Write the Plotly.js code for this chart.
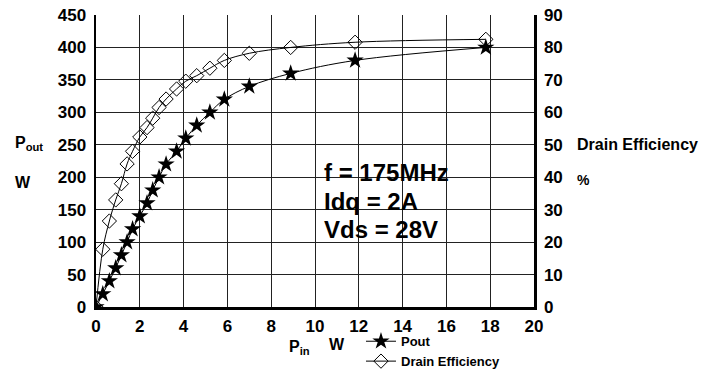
<!DOCTYPE html>
<html>
<head>
<meta charset="utf-8">
<script src="https://cdn.plot.ly/plotly-3.0.1.min.js"></script>
<style>
html,body{margin:0;padding:0;background:#fff;}
#chart{width:712px;height:372px;}
</style>
</head>
<body>
<div id="chart"></div>
<script>
// Input power (W)
const pin = [0, 0.31, 0.61, 0.9, 1.16, 1.42, 1.67, 2.0, 2.33, 2.59, 2.88, 3.2, 3.68, 4.1, 4.6, 5.2, 5.86, 7.0, 8.89, 11.83, 17.8];
// Output power (W)
const pout = [0, 20, 40, 60, 80, 100, 120, 140, 160, 180, 200, 220, 240, 260, 280, 300, 320, 340, 360, 380, 400];
// Drain efficiency (%)
const eff = [0, 17.8, 26.5, 33, 38, 44.1, 48, 52.4, 55.3, 58.2, 61.5, 64.1, 67.2, 69.6, 71.3, 73.6, 76, 78.2, 80, 81.6, 82.5];

const FONT = 'Liberation Sans, Arial, Helvetica, sans-serif';

const traces = [
  {
    x: pin, y: pout, name: '<b>Pout</b>', type: 'scatter', mode: 'lines+markers',
    line: {color: 'black', width: 1, shape: 'spline'},
    marker: {symbol: 'star', size: 13, color: 'black', line: {width: 0}}
  },
  {
    x: pin, y: eff, name: '<b>Drain Efficiency</b>', type: 'scatter', mode: 'lines+markers', yaxis: 'y2',
    line: {color: 'black', width: 1, shape: 'spline'},
    marker: {symbol: 'diamond-open', size: 11, color: 'black', line: {width: 1, color: 'black'}}
  }
];

const tickfont = {family: FONT, size: 17, color: 'black', weight: 'bold'};
const gridcolor = '#222';

function ann(x, y, text, size) {
  return {xref: 'paper', yref: 'paper', x: x, y: y, xanchor: 'left', yanchor: 'middle', showarrow: false,
          text: '<b>' + text + '</b>', font: {family: FONT, size: size, color: 'black', weight: 'bold'}};
}

const layout = {
  width: 712, height: 372,
  margin: {l: 96, r: 178, t: 15, b: 65, pad: 0, autoexpand: false},
  paper_bgcolor: 'white', plot_bgcolor: 'white',
  font: {family: FONT, color: 'black', weight: 'bold'},
  showlegend: true,
  legend: {
    x: 0.605, y: -0.066, xanchor: 'left', yanchor: 'top',
    bgcolor: 'rgba(0,0,0,0)', borderwidth: 0,
    font: {family: FONT, size: 13, color: 'black', weight: 'bold'},
    tracegroupgap: 0, itemwidth: 30
  },
  xaxis: {
    range: [0, 20], dtick: 2, tick0: 0, ticks: '',
    showline: true, linecolor: 'black', linewidth: 2.5,
    showgrid: true, gridcolor: gridcolor, gridwidth: 1,
    zeroline: false, tickfont: tickfont, ticklabelstandoff: 2, fixedrange: true
  },
  yaxis: {
    range: [0, 450], dtick: 50, tick0: 0, ticks: '',
    showline: true, linecolor: 'black', linewidth: 2.5,
    showgrid: true, gridcolor: gridcolor, gridwidth: 1,
    zeroline: false, tickfont: tickfont, ticklabelstandoff: 4, fixedrange: true
  },
  yaxis2: {
    range: [0, 90], dtick: 10, tick0: 0, ticks: '', overlaying: 'y', side: 'right',
    showline: true, linecolor: 'black', linewidth: 2.5,
    showgrid: false, zeroline: false, tickfont: tickfont, ticklabelstandoff: 4, fixedrange: true
  },
  annotations: [
    ann(0.516, 0.459, 'f = 175MHz', 24),
    ann(0.516, 0.36, 'Idq = 2A', 24),
    ann(0.516, 0.264, 'Vds = 28V', 24),
    ann(-0.19, 0.56, 'P<sub>out</sub>', 16),
    ann(-0.19, 0.428, 'W', 16),
    ann(1.0936, 0.555, 'Drain Efficiency', 16),
    ann(1.0936, 0.435, '%', 14),
    ann(0.436, -0.137, 'P<sub>in</sub>', 16),
    ann(0.527, -0.128, 'W', 16)
  ]
};

Plotly.newPlot('chart', traces, layout, {displayModeBar: false, staticPlot: true});
</script>
</body>
</html>
